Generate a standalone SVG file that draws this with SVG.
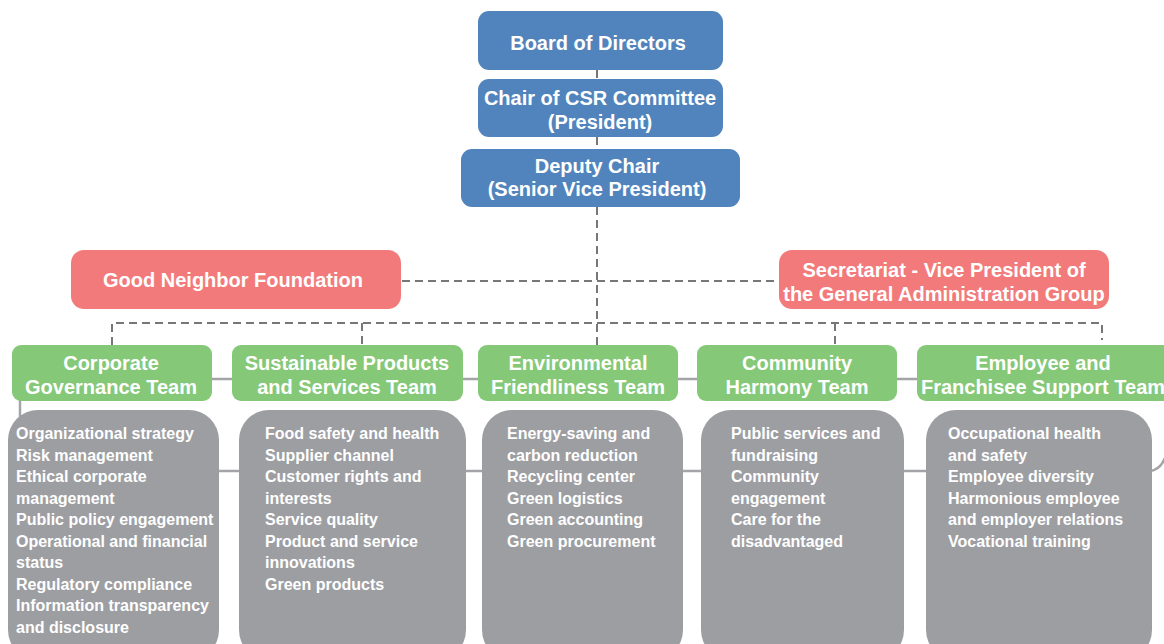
<svg xmlns="http://www.w3.org/2000/svg" width="1164" height="644" viewBox="0 0 1164 644">
<style>
text{font-family:"Liberation Sans",Arial,sans-serif;font-weight:bold;fill:#fff}
.t20{font-size:20px;text-anchor:middle}
.t16{font-size:16px}
.blue{fill:#5184bc}
.pink{fill:#f27a7b}
.green{fill:#84c878}
.gray{fill:#9d9ea2}
.dash{stroke:#777;stroke-width:2;stroke-dasharray:8 5;fill:none}
.solid{stroke:#a3a4a8;stroke-width:2.5;fill:none}
</style>
<rect width="1164" height="644" fill="#fff"/>
<g id="connectors">
<path class="dash" d="M597,70V79M597,137V149M597,207V345"/>
<path class="dash" d="M402,281H779"/>
<path class="dash" d="M112,345V323H1102V340M362,323V345M835,323V345"/>
<path class="solid" d="M12,379H1164"/>
<path class="solid" d="M8,471H1152"/>
<path class="solid" d="M20,395V420"/>
<path class="solid" d="M1150,471Q1160,470 1165,458"/>
</g>
<g id="board">
<rect class="blue" x="478" y="11" width="245" height="59" rx="11"/>
<text class="t20" x="598" y="50">Board of Directors</text>
</g>
<g id="chair">
<rect class="blue" x="478" y="79" width="245" height="58" rx="11"/>
<text class="t20" x="600" y="105">Chair of CSR Committee</text>
<text class="t20" x="600" y="129">(President)</text>
</g>
<g id="deputy">
<rect class="blue" x="461" y="149" width="279" height="58" rx="11"/>
<text class="t20" x="597" y="173">Deputy Chair</text>
<text class="t20" x="597" y="196">(Senior Vice President)</text>
</g>
<g id="foundation">
<rect class="pink" x="71" y="250" width="330" height="59" rx="13"/>
<text class="t20" x="233" y="287">Good Neighbor Foundation</text>
</g>
<g id="secretariat">
<rect class="pink" x="779" y="250" width="330" height="59" rx="13"/>
<text class="t20" x="944" y="277">Secretariat - Vice President of</text>
<text class="t20" x="944" y="301">the General Administration Group</text>
</g>
<g id="team-governance">
<rect class="green" x="12" y="345" width="200" height="56" rx="9"/>
<text class="t20" x="111" y="370">Corporate</text>
<text class="t20" x="111" y="394">Governance Team</text>
</g>
<g id="team-products">
<rect class="green" x="232" y="345" width="231" height="56" rx="9"/>
<text class="t20" x="347" y="370">Sustainable Products</text>
<text class="t20" x="347" y="394">and Services Team</text>
</g>
<g id="team-environment">
<rect class="green" x="478" y="345" width="200" height="56" rx="9"/>
<text class="t20" x="578" y="370">Environmental</text>
<text class="t20" x="578" y="394">Friendliness Team</text>
</g>
<g id="team-community">
<rect class="green" x="697" y="345" width="200" height="56" rx="9"/>
<text class="t20" x="797" y="370">Community</text>
<text class="t20" x="797" y="394">Harmony Team</text>
</g>
<g id="team-employee">
<rect class="green" x="917" y="345" width="256" height="56" rx="9"/>
<text class="t20" x="1043" y="370">Employee and</text>
<text class="t20" x="1043" y="394">Franchisee Support Team</text>
</g>
<g id="items-governance">
<rect class="gray" x="8" y="410" width="211" height="250" rx="30"/>
<text class="t16" x="16" y="439">Organizational strategy</text>
<text class="t16" x="16" y="460.5">Risk management</text>
<text class="t16" x="16" y="482">Ethical corporate</text>
<text class="t16" x="16" y="503.5">management</text>
<text class="t16" x="16" y="525">Public policy engagement</text>
<text class="t16" x="16" y="546.5">Operational and financial</text>
<text class="t16" x="16" y="568">status</text>
<text class="t16" x="16" y="589.5">Regulatory compliance</text>
<text class="t16" x="16" y="611">Information transparency</text>
<text class="t16" x="16" y="632.5">and disclosure</text>
</g>
<g id="items-products">
<rect class="gray" x="239" y="410" width="227" height="250" rx="30"/>
<text class="t16" x="265" y="439">Food safety and health</text>
<text class="t16" x="265" y="460.5">Supplier channel</text>
<text class="t16" x="265" y="482">Customer rights and</text>
<text class="t16" x="265" y="503.5">interests</text>
<text class="t16" x="265" y="525">Service quality</text>
<text class="t16" x="265" y="546.5">Product and service</text>
<text class="t16" x="265" y="568">innovations</text>
<text class="t16" x="265" y="589.5">Green products</text>
</g>
<g id="items-environment">
<rect class="gray" x="482" y="410" width="201" height="250" rx="30"/>
<text class="t16" x="507" y="439">Energy-saving and</text>
<text class="t16" x="507" y="460.5">carbon reduction</text>
<text class="t16" x="507" y="482">Recycling center</text>
<text class="t16" x="507" y="503.5">Green logistics</text>
<text class="t16" x="507" y="525">Green accounting</text>
<text class="t16" x="507" y="546.5">Green procurement</text>
</g>
<g id="items-community">
<rect class="gray" x="701" y="410" width="203" height="250" rx="30"/>
<text class="t16" x="731" y="439">Public services and</text>
<text class="t16" x="731" y="460.5">fundraising</text>
<text class="t16" x="731" y="482">Community</text>
<text class="t16" x="731" y="503.5">engagement</text>
<text class="t16" x="731" y="525">Care for the</text>
<text class="t16" x="731" y="546.5">disadvantaged</text>
</g>
<g id="items-employee">
<rect class="gray" x="926" y="410" width="226" height="250" rx="30"/>
<text class="t16" x="948" y="439">Occupational health</text>
<text class="t16" x="948" y="460.5">and safety</text>
<text class="t16" x="948" y="482">Employee diversity</text>
<text class="t16" x="948" y="503.5">Harmonious employee</text>
<text class="t16" x="948" y="525">and employer relations</text>
<text class="t16" x="948" y="546.5">Vocational training</text>
</g>
</svg>
